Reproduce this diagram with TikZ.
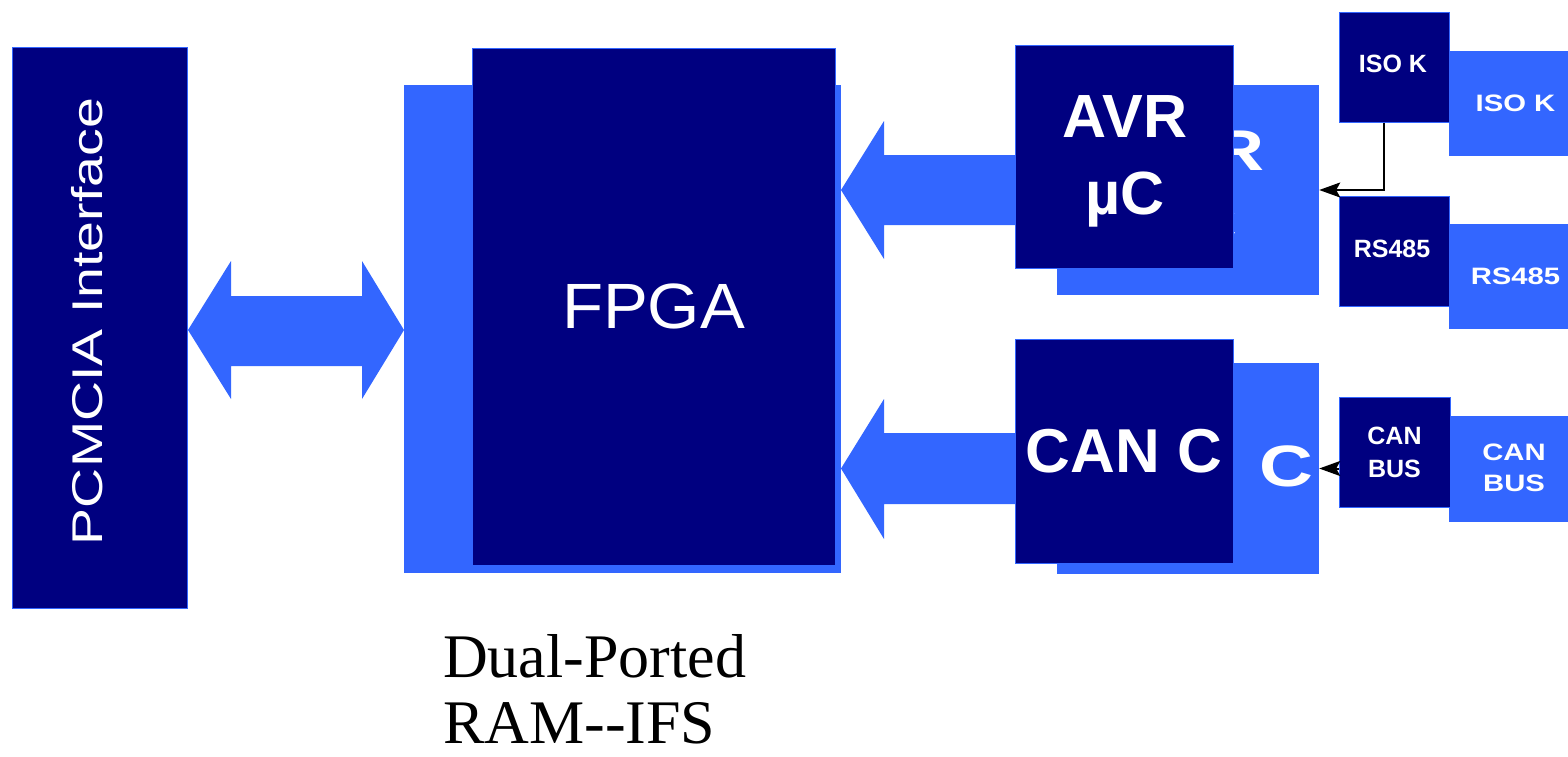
\documentclass[tikz,border=0pt]{standalone}
\usepackage{fontspec}
\setmainfont{Liberation Serif}
\setsansfont{Liberation Sans}
\usetikzlibrary{arrows.meta}

\definecolor{navyfill}{RGB}{0,0,128}
\definecolor{brightblue}{RGB}{51,102,255}

\tikzset{
  darkbox/.style={rectangle, fill=navyfill, draw=brightblue, line width=1pt,
    inner sep=0pt, text=white, font=\sffamily\bfseries, align=center},
  shadowbox/.style={rectangle, fill=brightblue, draw=none, inner sep=0pt,
    text=white, font=\sffamily\bfseries, align=center},
  boxtext/.style={inner sep=0pt, text=white, font=\sffamily\bfseries, align=center},
  blockarrow/.style={fill=brightblue, draw=none},
  conn/.style={draw=black, line width=2pt,
    -{Stealth[length=21pt,width=15pt,inset=4pt]}},
  bigfont/.style={font=\sffamily\bfseries\fontsize{61}{77}\selectfont},
  smallfont/.style={font=\sffamily\bfseries\fontsize{25}{33}\selectfont},
}

\begin{document}
\begin{tikzpicture}[x=1pt,y=-1pt]
  \path[use as bounding box] (0,0) rectangle (1568,756);
  \clip (0,0) rectangle (1568,756);

  % PCMCIA interface block with its vertical label
  \node[darkbox, minimum width=175pt, minimum height=561pt] (pcmcia) at (99.5,327.5) {};
  \node[text=white, inner sep=0pt, rotate=90,
        font=\sffamily\fontsize{43}{50}\selectfont] (pcmcialabel) at (87.5,321.5)
        {\scalebox{1.29}[1]{PCMCIA Interface}};

  % FPGA with its shadow plate
  \node[shadowbox, minimum width=437pt, minimum height=488pt] (fpgash) at (622.5,329) {};
  \node[darkbox, minimum width=363pt, minimum height=517pt,
        font=\sffamily\fontsize{64}{70}\selectfont] (fpga) at (653.5,306.5)
        {\scalebox{1.05}[1]{FPGA}};

  % double block arrow between PCMCIA and FPGA
  \fill[blockarrow] (188,330) -- (231,261) -- (231,296) -- (362,296) -- (362,261)
    -- (404,330) -- (362,399) -- (362,366) -- (231,366) -- (231,399) -- cycle;

  % shadow plates of the controllers, carrying their stretched text
  \node[shadowbox, minimum width=262pt, minimum height=210pt] (avrsh) at (1188,190) {};
  \node[boxtext, bigfont, xscale=1.203, yscale=0.942] (avrghost) at (1190,193) {AVR\\µC};
  \node[shadowbox, minimum width=262pt, minimum height=211pt] (cansh) at (1188,468.5) {};
  \node[boxtext, font=\sffamily\bfseries\fontsize{62}{70}\selectfont,
        xscale=1.203, yscale=0.942] (canghost) at (1195,466) {CAN C};

  % block arrows from the controllers to the FPGA
  \fill[blockarrow] (841,190) -- (884,121) -- (884,155) -- (1016,155) -- (1016,225)
    -- (884,225) -- (884,259) -- cycle;
  \fill[blockarrow] (841,468.5) -- (884,399) -- (884,433) -- (1016,433) -- (1016,504)
    -- (884,504) -- (884,539) -- cycle;

  % controllers
  \node[darkbox, minimum width=218pt, minimum height=223pt] (avr) at (1124,156.5) {};
  \node[boxtext, bigfont] (avrlabel) at (1125,161) {AVR\\µC};
  \node[darkbox, font=\sffamily\bfseries\fontsize{62}{70}\selectfont,
        minimum width=218pt, minimum height=224pt] (can) at (1124,451) {CAN C};

  % bus transceivers: shadow plates first, then the dark blocks
  \node[shadowbox, smallfont, minimum width=133pt, minimum height=105pt] (isoksh) at (1515.5,103.5)
        {\scalebox{1.17}[0.95]{ISO K}};
  \node[shadowbox, smallfont, minimum width=133pt, minimum height=105pt] (rssh) at (1515.5,276.5)
        {\scalebox{1.17}[0.95]{RS485}};
  \node[shadowbox, minimum width=132pt, minimum height=106pt] (canbussh) at (1515,469) {};
  \node[boxtext, smallfont, xscale=1.17, yscale=0.95] (canbusghost) at (1514,468) {CAN\\BUS};

  \node[darkbox, minimum width=110pt, minimum height=110pt] (isok) at (1394,67) {};
  \node[boxtext, smallfont] (isoklabel) at (1393,64) {ISO K};
  \node[darkbox, minimum width=110pt, minimum height=110pt] (rs) at (1394,251) {};
  \node[boxtext, smallfont] (rslabel) at (1392,249) {RS485};
  \node[darkbox, smallfont, minimum width=111pt, minimum height=110pt] (canbus) at (1394.5,452) {CAN\\BUS};

  % signal lines
  \draw[conn] ([xshift=-10pt]isok.south) |- (avrsh.east);
  \draw[conn] (canbus.west |- cansh.east) -- (cansh.east);

  % caption
  \node[anchor=north west, inner sep=0pt, align=left,
        font=\fontsize{62}{66}\selectfont] (caption) at (443,634)
        {Dual-Ported\\RAM-{}-IFS};
\end{tikzpicture}
\end{document}
